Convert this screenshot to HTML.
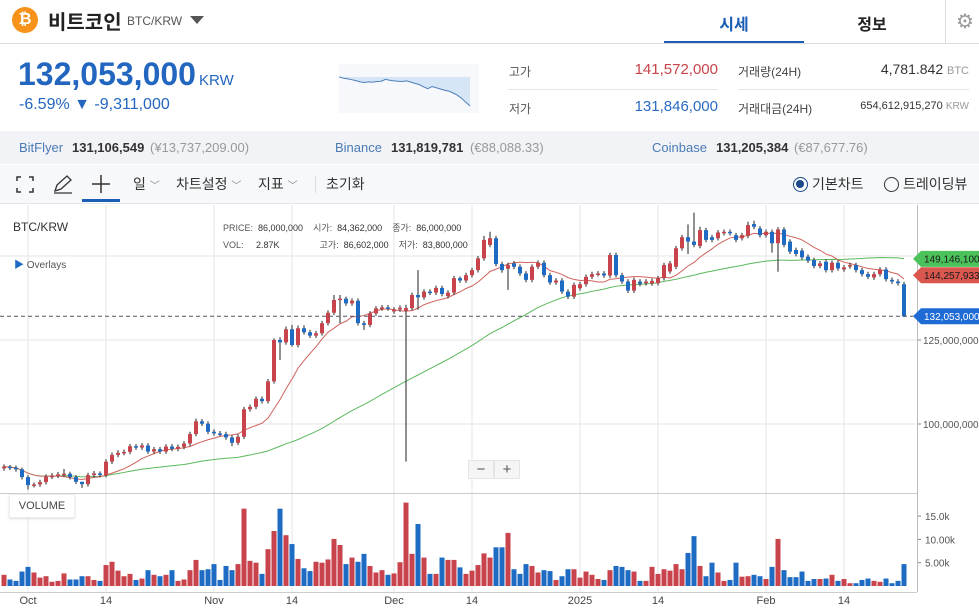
<!DOCTYPE html>
<html><head><meta charset="utf-8">
<style>
*{margin:0;padding:0;box-sizing:border-box}
body{width:979px;height:612px;overflow:hidden;background:#fff;font-family:"Liberation Sans","Noto Sans CJK KR",sans-serif;color:#333;position:relative}
.a{position:absolute;white-space:nowrap}
</style></head><body>
<div class="a" style="left:12px;top:7px;width:26px;height:26px;border-radius:50%;background:#f7931a;color:#fff;font-weight:bold;font-size:16px;line-height:26px;text-align:center">₿</div>
<div class="a" style="left:48px;top:6px;font-size:20px;font-weight:bold;color:#222">비트코인</div>
<div class="a" style="left:127px;top:14px;font-size:12px;color:#555">BTC/KRW</div>
<div class="a" style="left:190px;top:16px;width:0;height:0;border-left:7px solid transparent;border-right:7px solid transparent;border-top:8px solid #555"></div>
<div class="a" style="left:664px;top:11px;width:140px;text-align:center;font-size:16px;font-weight:bold;color:#1a5fb4">시세</div>
<div class="a" style="left:664px;top:41px;width:140px;height:3px;background:#1a5fb4"></div>
<div class="a" style="left:802px;top:11px;width:140px;text-align:center;font-size:16px;font-weight:bold;color:#222">정보</div>
<div class="a" style="left:945px;top:0;width:1px;height:43px;background:#ddd"></div>
<div class="a" style="left:956px;top:9px;font-size:20px;color:#999">⚙</div>
<div class="a" style="left:0;top:43px;width:979px;height:1px;background:#ddd"></div>

<div class="a" style="left:18px;top:56px;font-size:32px;font-weight:bold;color:#2266c0">132,053,000</div>
<div class="a" style="left:199px;top:72px;font-size:15px;color:#2266c0">KRW</div>
<div class="a" style="left:19px;top:96px;font-size:16px;color:#2266c0">-6.59% ▼ -9,311,000</div>

<svg class="a" style="left:339px;top:64px" width="140" height="49" id="spark"></svg>

<div class="a" style="left:509px;top:63px;font-size:12px;color:#555">고가</div>
<div class="a" style="left:560px;width:158px;text-align:right;top:61px;font-size:15px;color:#c8434b">141,572,000</div>
<div class="a" style="left:508px;top:89px;width:210px;height:1px;background:#e5e5e5"></div>
<div class="a" style="left:738px;top:89px;width:231px;height:1px;background:#e5e5e5"></div>
<div class="a" style="left:509px;top:100px;font-size:12px;color:#555">저가</div>
<div class="a" style="left:560px;width:158px;text-align:right;top:98px;font-size:15px;color:#2a6bc2">131,846,000</div>
<div class="a" style="left:738px;top:63px;font-size:12px;color:#444">거래량(24H)</div>
<div class="a" style="left:800px;width:169px;text-align:right;top:61px;font-size:14px;color:#333">4,781.842 <span style="font-size:11px;color:#999">BTC</span></div>
<div class="a" style="left:738px;top:100px;font-size:12px;color:#444">거래대금(24H)</div>
<div class="a" style="left:800px;width:169px;text-align:right;top:100px;font-size:11px;color:#333">654,612,915,270 <span style="font-size:10px;color:#999">KRW</span></div>

<div class="a" style="left:0;top:131px;width:979px;height:33px;background:#f1f3f6;font-size:13px;line-height:33px">
<span class="a" style="left:19px;color:#4a7ab5">BitFlyer</span>
<span class="a" style="left:72px;font-weight:bold;color:#333">131,106,549</span>
<span class="a" style="left:150px;color:#999">(¥13,737,209.00)</span>
<span class="a" style="left:335px;color:#4a7ab5">Binance</span>
<span class="a" style="left:391px;font-weight:bold;color:#333">131,819,781</span>
<span class="a" style="left:470px;color:#999">(€88,088.33)</span>
<span class="a" style="left:652px;color:#4a7ab5">Coinbase</span>
<span class="a" style="left:716px;font-weight:bold;color:#333">131,205,384</span>
<span class="a" style="left:794px;color:#999">(€87,677.76)</span>
</div>

<div class="a" style="left:0;top:165px;width:979px;height:39px;background:#f7f8fa;border-bottom:1px solid #e3e6ea;font-size:14px;line-height:39px;color:#333">
<svg class="a" style="left:16px;top:11px" width="18" height="17"><path d="M1 5V1H5M13 1H17V5M17 12V16H13M5 16H1V12" fill="none" stroke="#333" stroke-width="1.5"/></svg>
<svg class="a" style="left:52px;top:9px" width="22" height="20"><path d="M3 17L5 11L15 2L19 6L9 15Z M2 19H20" fill="none" stroke="#333" stroke-width="1.3"/></svg>
<svg class="a" style="left:91px;top:9px" width="20" height="20"><path d="M10 1V19M1 10H19" stroke="#333" stroke-width="1.5"/></svg>
<div class="a" style="left:82px;top:34px;width:38px;height:3px;background:#1a5fb4"></div>
<span class="a" style="left:133px">일 <span style="font-size:10px;color:#888">﹀</span></span>
<span class="a" style="left:176px">차트설정 <span style="font-size:10px;color:#888">﹀</span></span>
<span class="a" style="left:258px">지표 <span style="font-size:10px;color:#888">﹀</span></span>
<div class="a" style="left:315px;top:11px;width:1px;height:17px;background:#ddd"></div>
<span class="a" style="left:326px">초기화</span>
<div class="a" style="left:793px;top:12px;width:15px;height:15px;border:1.5px solid #1a4a8a;border-radius:50%"><div style="margin:2px;width:8px;height:8px;border-radius:50%;background:#1a4a8a"></div></div>
<span class="a" style="left:812px">기본차트</span>
<div class="a" style="left:884px;top:12px;width:15px;height:15px;border:1.5px solid #333;border-radius:50%"></div>
<span class="a" style="left:903px">트레이딩뷰</span>
</div>

<svg class="a" id="chart" style="left:0;top:0" width="979" height="612"></svg>

<div class="a" style="left:13px;top:220px;font-size:12px;color:#333">BTC/KRW</div>
<div class="a" style="left:14px;top:256px;font-size:10px;color:#555"><span style="color:#1e6bc3">▶</span> Overlays</div>
<div class="a" style="left:223px;top:220px;font-size:9px;color:#555;line-height:17px">
<div>PRICE:&nbsp; <span style="color:#333">86,000,000</span> &nbsp;&nbsp; 시가:&nbsp; <span style="color:#333">84,362,000</span> &nbsp;&nbsp; 종가:&nbsp; <span style="color:#333">86,000,000</span></div>
<div>VOL:&nbsp;&nbsp;&nbsp;&nbsp; <span style="color:#333">2.87K</span> &nbsp;&nbsp;&nbsp;&nbsp;&nbsp;&nbsp;&nbsp;&nbsp;&nbsp;&nbsp;&nbsp;&nbsp;&nbsp;&nbsp; 고가:&nbsp; <span style="color:#333">86,602,000</span> &nbsp;&nbsp; 저가:&nbsp; <span style="color:#333">83,800,000</span></div>
</div>
<div class="a" style="left:468px;top:460px;width:26px;height:19px;background:#f5f5f5;border:1px solid #e5e5e5;text-align:center;font-size:15px;line-height:17px;color:#555">−</div>
<div class="a" style="left:494px;top:460px;width:26px;height:19px;background:#f5f5f5;border:1px solid #e5e5e5;text-align:center;font-size:15px;line-height:17px;color:#555">+</div>
<div class="a" style="left:9px;top:494px;width:66px;height:24px;background:#fff;border:1px solid #eee;box-shadow:0 1px 2px #ddd;font-size:11px;line-height:22px;text-align:center;color:#444">VOLUME</div>

<script>
const opens=[86.8,87.3,87.0,86.5,84.2,81.8,82.0,82.7,84.3,84.6,85.0,85.2,84.2,82.8,82.1,84.8,85.3,84.8,88.8,90.8,91.4,91.7,93.4,93.0,93.6,91.8,92.5,91.8,93.3,92.6,93.2,94.2,97.0,100.8,100.1,97.7,97.2,97.0,96.0,94.4,96.2,104.4,105.1,107.5,106.8,112.7,125.0,124.3,128.2,123.5,128.5,127.3,126.3,127.0,130.0,133.1,136.9,137.3,135.9,136.7,130.0,129.5,132.9,134.4,134.7,133.5,134.1,133.8,134.5,138.4,137.7,139.4,139.1,140.5,138.1,139.1,143.4,142.7,144.3,145.8,149.3,153.3,155.3,147.6,146.2,147.8,146.8,144.8,142.9,146.8,148.0,144.3,142.1,142.7,139.4,137.9,140.4,141.6,143.8,144.6,144.8,144.2,150.3,144.3,142.4,139.7,142.4,141.9,141.8,141.9,143.4,145.4,146.8,152.3,155.6,154.3,153.0,157.7,155.6,155.3,156.8,157.2,156.2,155.3,156.0,159.5,158.2,156.2,157.2,153.8,157.9,154.3,151.8,151.6,149.8,148.8,147.0,148.3,145.8,148.0,146.0,146.9,147.3,145.8,144.6,143.6,144.6,146.0,142.9,142.4,141.6];
const closes=[87.3,87.0,86.5,84.2,81.8,82.0,82.7,84.3,84.6,85.0,85.2,84.2,82.8,82.1,84.8,85.3,84.8,88.8,90.8,91.4,91.7,93.4,93.0,93.6,91.8,92.5,91.8,93.3,92.6,93.2,94.2,97.0,100.8,100.1,97.7,97.2,97.0,96.0,94.4,96.2,104.4,105.1,107.5,106.8,112.7,125.0,124.3,128.2,123.5,128.5,127.3,126.3,127.0,130.0,133.1,136.9,137.3,135.9,136.7,130.0,129.5,132.9,134.4,134.7,134.4,134.1,134.6,134.5,138.4,137.7,139.4,139.1,140.5,138.7,139.1,143.4,142.7,144.3,145.8,149.3,154.8,155.3,147.6,145.8,147.3,146.8,144.8,142.9,146.8,148.0,144.3,142.1,142.7,139.4,137.9,141.4,141.6,143.8,144.6,144.8,144.2,150.3,144.3,142.4,139.7,142.9,141.7,142.4,142.6,143.4,147.3,147.8,152.3,155.6,154.3,153.3,157.7,154.8,154.8,157.0,157.2,156.8,154.8,156.2,159.2,158.7,156.2,157.2,153.8,157.9,153.3,151.3,150.6,149.6,148.6,147.0,147.8,145.8,148.0,146.3,146.6,147.3,145.8,144.6,143.8,144.6,146.0,143.1,142.4,141.9,132.053];
const highs=[88.0,87.8,87.6,87.0,84.8,82.6,83.4,85.0,85.4,85.7,86.6,85.8,84.8,82.8,85.5,86.0,85.9,89.5,91.5,92.2,92.4,94.1,94.0,94.3,94.3,93.2,93.2,94.0,94.0,93.9,94.9,97.7,101.6,101.5,100.8,98.4,97.9,97.7,96.7,96.9,105.1,105.8,108.2,108.2,113.4,125.5,125.8,129.0,129.5,129.3,129.4,128.0,127.7,130.7,133.8,138.4,138.4,137.9,137.4,137.4,130.7,133.6,135.1,135.4,135.4,134.8,135.3,135.5,139.1,145.8,140.1,140.1,141.2,141.2,139.8,144.1,143.9,145.0,146.5,150.0,156.0,157.2,156.0,148.3,148.0,148.5,147.5,145.5,147.5,148.7,148.7,145.0,143.4,143.4,140.1,142.1,142.3,144.5,145.3,145.5,145.5,151.0,151.0,145.0,143.1,143.6,143.1,143.1,143.3,144.1,148.0,148.5,153.0,156.3,159.4,162.9,158.7,158.4,156.3,157.7,157.9,157.9,156.9,156.9,160.2,160.5,158.9,157.9,157.9,158.6,158.6,155.0,152.5,152.3,150.5,149.5,148.5,149.0,148.7,148.7,147.3,148.0,148.0,146.5,145.3,145.3,146.7,146.7,143.6,143.1,142.3];
const lows=[86.1,86.3,85.8,83.5,80.5,81.1,81.3,82.0,83.6,83.9,84.3,83.5,82.1,81.0,81.4,84.1,84.1,84.1,88.1,90.1,90.7,91.0,92.3,92.3,91.1,91.1,91.1,91.1,91.9,91.9,92.5,93.5,96.3,99.4,97.0,96.5,96.3,95.3,93.4,93.7,95.5,103.7,104.4,106.1,106.1,112.0,119.0,123.6,123.0,122.8,126.6,125.6,125.6,126.3,129.3,132.4,130.0,135.2,135.2,129.3,128.0,128.8,132.2,133.7,133.7,132.8,133.4,88.8,133.8,134.0,137.0,138.4,138.4,138.0,137.4,138.4,142.0,142.0,143.6,145.1,148.6,152.6,146.9,145.0,139.9,146.1,144.1,142.2,142.2,146.1,143.6,141.4,141.4,138.7,137.2,137.2,139.7,140.9,143.1,143.9,143.5,143.5,143.6,141.7,139.0,139.0,141.0,141.2,141.1,141.2,142.7,144.7,146.1,151.6,150.6,152.6,152.3,154.1,154.1,154.6,156.1,156.1,154.1,154.6,155.3,158.0,155.5,155.5,151.0,145.3,152.6,150.6,149.9,148.9,147.9,146.3,146.3,145.1,145.1,145.6,145.3,146.2,145.1,143.9,143.1,142.9,143.9,142.4,141.7,141.2,131.8];
const volumes=[2.4,1.4,1.1,3.1,4.1,2.9,1.8,2.1,0.9,1.1,2.7,1.4,1.4,2.1,2.1,1.3,1.1,4.5,5.2,3.3,2.1,2.6,1.3,1.6,3.4,2.4,2.1,2.4,3.4,1.1,1.4,3.4,5.6,3.4,3.6,4.7,1.3,4.3,3.4,4.7,16.6,5.4,5.0,2.6,7.9,11.8,16.6,10.9,9.0,5.8,3.8,3.2,5.2,5.0,5.7,10.1,8.8,4.7,6.1,5.2,6.9,4.3,2.9,3.4,2.4,2.7,5.1,17.9,6.9,13.3,6.1,2.6,2.6,6.1,5.6,5.6,4.0,2.6,3.3,4.5,7.0,6.1,8.3,8.3,11.4,3.6,2.6,4.7,4.3,2.9,3.4,3.2,1.3,2.1,3.6,3.6,1.8,3.1,2.4,1.5,1.3,3.4,4.3,4.1,3.4,3.1,1.1,1.1,4.1,2.6,3.6,3.3,4.7,3.6,7.1,10.7,4.3,2.1,5.0,2.9,1.1,1.3,5.0,2.0,2.1,2.4,2.1,1.5,4.1,10.1,3.4,1.9,1.9,3.1,1.1,1.5,1.5,1.6,2.4,1.1,1.5,0.6,0.6,1.3,1.6,1.1,0.9,1.6,0.6,1.1,4.7];
const tickIndex=[4,17,35,48,65,78,96,109,127,140];
const tickLabels=["Oct","14","Nov","14","Dec","14","2025","14","Feb","14"];
const priceTicks=[100,125,150];
const volTicks=[5,10,15];
const volTickLabels=["5.00k","10.00k","15.0k"];
const maLongLast=149.1461;
const maShortLast=144.257933;
const sparkValues=[141.4,141.0,140.8,140.5,140.2,139.8,139.6,139.8,139.7,139.9,140.0,140.6,140.3,140.1,140.0,139.9,140.1,139.7,139.3,138.9,138.2,137.6,138.3,137.9,137.5,137.1,136.8,136.2,135.5,134.5,133.2,132.05];
const prevClose=141.364;

const NS="http://www.w3.org/2000/svg";
const svg=document.getElementById('chart');
function mk(tag,attrs,parent){const e=document.createElementNS(NS,tag);for(const k in attrs)e.setAttribute(k,attrs[k]);(parent||svg).appendChild(e);return e;}
const X=i=>4+6*i;
const Y=p=>340-(p-125)*3.36;
const VY=v=>586-v*4.66;
const RED="#c8434b",BLUE="#1e6bc3";

let g=mk('rect',{x:0,y:205,width:979,height:407,fill:'#fff'});


tickIndex.forEach((t,k)=>{
  const l=mk('line',{x1:X(t),x2:X(t),y1:205,y2:592,stroke:'#e6e6e6','stroke-width':1});
  
  
  const tx=mk('text',{x:X(t),y:604,'font-size':11,fill:'#444','text-anchor':'middle','font-family':'Liberation Sans'});
  tx.textContent=tickLabels[k];
  
  
});
priceTicks.forEach(p=>{
  const l=mk('line',{x1:0,x2:917,y1:Y(p),y2:Y(p),stroke:'#e6e6e6'});
  
  
  mk('line',{x1:917,x2:921,y1:Y(p),y2:Y(p),stroke:'#888'});
  const tx=mk('text',{x:923,y:Y(p)+4,'font-size':10,fill:'#555','font-family':'Liberation Sans'});
  tx.textContent=(p*1e6).toLocaleString('en-US');
  
  
});
volTicks.forEach((v,k)=>{
  mk('line',{x1:917,x2:921,y1:VY(v),y2:VY(v),stroke:'#888'});
  const tx=mk('text',{x:925,y:VY(v)+4,'font-size':10,fill:'#555','font-family':'Liberation Sans'});
  tx.textContent=volTickLabels[k];
  
  
});
mk('line',{x1:917.5,x2:917.5,y1:205,y2:592,stroke:'#bbb'});
mk('line',{x1:0,x2:917,y1:493.5,y2:493.5,stroke:'#ccc'});
mk('line',{x1:0,x2:917,y1:592.5,y2:592.5,stroke:'#ccc'});

volumes.forEach((v,i)=>{
  const r=mk('rect',{x:X(i)-2.5,y:VY(v),width:5,height:586-VY(v),fill:closes[i]>=opens[i]?RED:BLUE});
  
  
});

function ma(n){return closes.map((c,i)=>{const s=closes.slice(Math.max(0,i-n+1),i+1);return s.reduce((a,b)=>a+b,0)/s.length;});}
const ma10=ma(10),ma50=ma(50);
let p1=mk('polyline',{points:ma50.map((v,i)=>X(i)+','+Y(v)).join(' '),fill:'none',stroke:'#5cb85c','stroke-width':1});


let p2=mk('polyline',{points:ma10.map((v,i)=>X(i)+','+Y(v)).join(' '),fill:'none',stroke:'#d0625c','stroke-width':1});



opens.forEach((o,i)=>{
  const c=closes[i],col=c>=o?RED:BLUE;
  const w=mk('line',{x1:X(i),x2:X(i),y1:Y(highs[i]),y2:Y(lows[i]),stroke:'#222','stroke-width':1});
  
  
  const top=Y(Math.max(o,c)),bot=Y(Math.min(o,c));
  const b=mk('rect',{x:X(i)-2,y:top,width:4,height:Math.max(1.5,bot-top),fill:col});
  
  
});

const last=closes[closes.length-1];
mk('line',{x1:0,x2:913,y1:Y(last),y2:Y(last),stroke:'#556','stroke-dasharray':'4,3'});
function bubble(v,fill,tc,name){
  const y=Y(v);
  const p=mk('polygon',{points:`913,${y} 921,${y-8} 979,${y-8} 979,${y+8} 921,${y+8}`,fill:fill});
  
  
  const t=mk('text',{x:924,y:y+3.5,'font-size':10,fill:tc,'font-family':'Liberation Sans'});
  t.textContent=Math.round(v*1e6).toLocaleString('en-US');
  
  
}
bubble(maLongLast,'#4cc35a','#1a1a1a','ma-long-value');
bubble(maShortLast,'#d9574f','#1a1a1a','ma-short-value');
bubble(last,'#1e6bd6','#fff','last-price-value');

const sp=document.getElementById('spark');
const SX=i=>i*(131/(sparkValues.length-1));
const SY=v=>13+(prevClose-v)*3.1;
mk('rect',{x:0,y:0,width:140,height:49,fill:'#f6f8fb'},sp);
const pts=sparkValues.map((v,i)=>SX(i)+','+SY(v)).join(' ');
let ar=mk('polygon',{points:`0,${SY(prevClose)} `+pts+` ${SX(sparkValues.length-1)},${SY(prevClose)}`,fill:'#d6e6f7'},sp);


let sl=mk('polyline',{points:pts,fill:'none',stroke:'#4f7fb8','stroke-width':1},sp);


</script>
</body></html>
